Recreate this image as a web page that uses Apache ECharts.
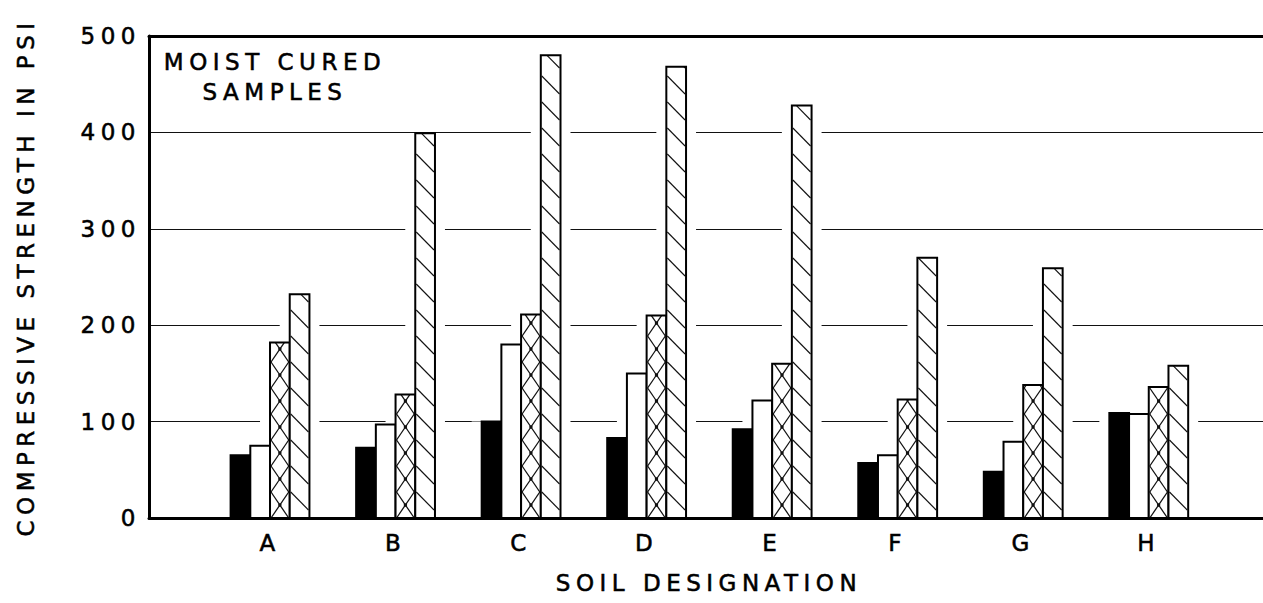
<!DOCTYPE html>
<html>
<head>
<meta charset="utf-8">
<script src="https://cdn.jsdelivr.net/npm/echarts@6/dist/echarts.min.js"></script>
<style>
  html, body { margin: 0; padding: 0; background: #fff; }
  #chart { width: 1263px; height: 603px; }
  /* hand-lettered look: wide tracking and a slightly heavier pen on every label */
  #chart svg text { letter-spacing: 5.5px; stroke: #000; stroke-width: 0.55px; }
</style>
</head>
<body>
<div id="chart"></div>
<script>
// Soil designations along the x axis
const soils = ['A', 'B', 'C', 'D', 'E', 'F', 'G', 'H'];

// Compressive strength (psi) of moist cured samples, four treatments per soil
const solidBars   = [65, 73, 100, 83, 92, 57, 48, 109];
const openBars    = [75, 97, 180, 150, 122, 65, 79, 108];
const crossBars   = [182, 128, 211, 210, 160, 123, 138, 136];
const diagBars    = [232, 399, 480, 468, 428, 270, 259, 158];

// Strength axis ticks
const strengthTicks = [0, 100, 200, 300, 400, 500];

const FONT = '"DejaVu Sans", "Liberation Sans", sans-serif';
const INK = '#111';
const BAR_FRAC = 0.157;   // bar width relative to soil spacing
const HALO = 10;          // white clearance cut into the grid lines around bars
const X_MIN = 0.036, X_MAX = 8.91;

function barBox(api, slot) {
  const x = api.value(0), v = api.value(1);
  const p0 = api.coord([x, 0]);
  const p1 = api.coord([x, v]);
  const w = api.size([1, 0])[0] * BAR_FRAC;
  const left = p0[0] - 2 * w + slot * w;
  return { left: left, right: left + w, top: p1[1], bot: p0[1], w: w };
}

function clipSeg(x1, y1, x2, y2, top, bot) {
  const dy = y2 - y1;
  let t0 = 0, t1 = 1;
  if (dy !== 0) {
    const ta = (top - y1) / dy, tb = (bot - y1) / dy;
    t0 = Math.max(0, Math.min(ta, tb));
    t1 = Math.min(1, Math.max(ta, tb));
    if (t0 >= t1) return null;
  } else if (y1 < top || y1 > bot) {
    return null;
  }
  return { x1: x1 + (x2 - x1) * t0, y1: y1 + dy * t0, x2: x1 + (x2 - x1) * t1, y2: y1 + dy * t1 };
}

function hatchLine(seg, width) {
  return { type: 'line', shape: seg, style: { stroke: INK, lineWidth: width || 1.1 } };
}

function drawBar(api, slot) {
  const b = barBox(api, slot);
  const h = b.bot - b.top;
  const children = [];
  const fill = slot === 0 ? '#000' : '#fff';
  children.push({ type: 'rect', shape: { x: b.left, y: b.top, width: b.w, height: h }, style: { fill: fill } });
  const l = b.left + 1, r = b.right - 1, cx = (b.left + b.right) / 2;
  if (slot === 2) {
    // cross hatch: diamonds spanning the bar width, knots at the crossings
    const D = 26;
    const n = Math.ceil(h / D) + 2;
    for (let k = -1; k < n; k++) {
      const y0 = b.bot - k * D;
      const s1 = clipSeg(l, y0, r, y0 - D, b.top, b.bot);
      const s2 = clipSeg(l, y0, r, y0 + D, b.top, b.bot);
      if (s1) children.push(hatchLine(s1, 1.3));
      if (s2) children.push(hatchLine(s2, 1.3));
      const yc = y0 - D / 2;
      if (yc > b.top + 3 && yc < b.bot - 3) {
        children.push({ type: 'circle', shape: { cx: cx, cy: yc, r: 1.7 }, style: { fill: INK } });
      }
    }
  } else if (slot === 3) {
    // single diagonal hatch falling to the right
    const P = 26, S = 18;
    const n = Math.ceil((h + S) / P) + 1;
    for (let k = 0; k < n; k++) {
      const y0 = b.bot - k * P;
      const s = clipSeg(l, y0, r, y0 + S, b.top, b.bot);
      if (s) children.push(hatchLine(s, 1.1));
    }
  }
  children.push({ type: 'rect', shape: { x: b.left, y: b.top, width: b.w, height: h }, style: { fill: 'none', stroke: '#000', lineWidth: 2 } });
  return { type: 'group', children: children };
}

function barSeries(name, values, slot) {
  return {
    type: 'custom',
    name: name,
    z: 3,
    silent: true,
    clip: false,
    encode: { x: 0, y: 1 },
    data: values.map((v, i) => [i + 1, v]),
    renderItem: (params, api) => drawBar(api, slot)
  };
}

const allSets = [solidBars, openBars, crossBars, diagBars];
const haloData = [];
allSets.forEach((set, slot) => set.forEach((v, i) => haloData.push([i + 1, v, slot])));

const chart = echarts.init(document.getElementById('chart'), null, { renderer: 'svg' });

chart.setOption({
  animation: false,
  backgroundColor: '#fff',
  grid: { left: 149, right: 0, top: 36, bottom: 85, containLabel: false },
  xAxis: [
    {
      type: 'value',
      min: X_MIN,
      max: X_MAX,
      z: 10,
      name: 'SOIL DESIGNATION',
      nameLocation: 'middle',
      nameGap: 53,
      nameTextStyle: { color: '#000', fontSize: 23, fontFamily: FONT, padding: [0, 0, 0, 6] },
      axisLine: { show: true, onZero: false, lineStyle: { color: '#000', width: 3 } },
      axisTick: { show: false },
      splitLine: { show: false },
      axisLabel: {
        customValues: soils.map((s, i) => i + 1),
        formatter: v => soils[Math.round(v) - 1] || '',
        color: '#000',
        fontSize: 23,
        fontFamily: FONT,
        margin: 13
      }
    },
    {
      type: 'value',
      position: 'top',
      min: X_MIN,
      max: X_MAX,
      z: 10,
      axisLine: { show: true, onZero: false, lineStyle: { color: '#000', width: 3 } },
      axisTick: { show: false },
      axisLabel: { show: false },
      splitLine: { show: false }
    }
  ],
  yAxis: {
    type: 'value',
    min: strengthTicks[0],
    max: strengthTicks[strengthTicks.length - 1],
    interval: strengthTicks[1] - strengthTicks[0],
    name: 'COMPRESSIVE STRENGTH IN PSI',
    nameLocation: 'middle',
    nameRotate: 90,
    nameGap: 112,
    nameTextStyle: { color: '#000', fontSize: 23, fontFamily: FONT },
    axisLine: { show: true, lineStyle: { color: '#000', width: 3 } },
    axisTick: { show: false },
    axisLabel: { color: '#000', fontSize: 23, fontFamily: FONT, margin: 8 },
    splitLine: { show: true, lineStyle: { color: INK, width: 1.2 } }
  },
  graphic: [
    {
      type: 'text',
      z: 20,
      style: {
        text: 'MOIST CURED\nSAMPLES',
        x: 275,
        y: 47,
        align: 'center',
        verticalAlign: 'top',
        lineHeight: 30,
        font: '23px ' + FONT,
        fill: '#000'
      }
    }
  ],
  series: [
    {
      // white clearance behind each bar that interrupts the grid lines
      type: 'custom',
      z: 2,
      silent: true,
      clip: false,
      encode: { x: 0, y: 1 },
      data: haloData,
      renderItem: (params, api) => {
        const b = barBox(api, api.value(2));
        return {
          type: 'rect',
          shape: { x: b.left - HALO, y: b.top, width: b.w + 2 * HALO, height: b.bot - b.top },
          style: { fill: '#fff' }
        };
      }
    },
    barSeries('solid', solidBars, 0),
    barSeries('open', openBars, 1),
    barSeries('cross hatched', crossBars, 2),
    barSeries('diagonal hatched', diagBars, 3)
  ]
});
</script>
</body>
</html>
